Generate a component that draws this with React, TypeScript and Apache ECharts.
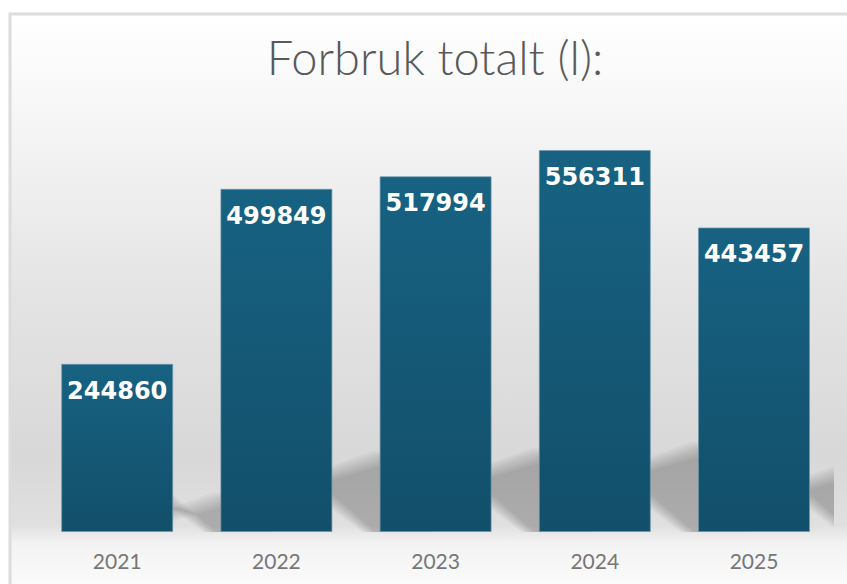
import React, { useEffect, useRef } from "react";
import * as echarts from "echarts";

const categories = ["2021", "2022", "2023", "2024", "2025"];
const values = [244860, 499849, 517994, 556311, 443457];
const titleText = "Forbruk totalt (l):";

export default function App() {
  const ref = useRef<HTMLDivElement>(null);

  useEffect(() => {
    if (!ref.current) return;
    const chart = echarts.init(ref.current, null, { renderer: "svg" });

    const option: any = {
      animation: false,
      graphic: [
        {
          type: "rect",
          z: -10,
          silent: true,
          shape: { x: 10, y: 14, width: 900, height: 700 },
          style: {
            stroke: "#dcdcdc",
            lineWidth: 3,
            fill: {
              type: "linear",
              x: 0,
              y: 0,
              x2: 0,
              y2: 584,
              global: true,
              colorStops: [
                { offset: 0.03, color: "#ffffff" },
                { offset: 0.2, color: "#f6f6f6" },
                { offset: 0.5, color: "#e4e4e4" },
                { offset: 0.78, color: "#d8d8d8" },
                { offset: 0.9, color: "#e0e0e0" },
                { offset: 0.93, color: "#f3f3f3" },
                { offset: 1, color: "#fafafa" },
              ],
            },
          },
        },
      ],
      title: {
        text: titleText,
        left: 430,
        top: 28,
        textAlign: "center",
        textStyle: {
          fontFamily: "Lato",
          fontWeight: 300,
          fontSize: 47,
          color: "#595959",
        },
      },
      grid: { left: 37.6, right: 13.4, top: 120, bottom: 52 },
      xAxis: {
        type: "category",
        data: categories,
        axisLine: { show: false },
        axisTick: { show: false },
        axisLabel: {
          fontFamily: "Lato",
          fontSize: 21,
          color: "#767676",
          margin: 17,
          lineHeight: 22,
        },
      },
      yAxis: {
        type: "value",
        min: 0,
        max: 600000,
        show: false,
        splitLine: { show: false },
      },
      series: [
        {
          type: "custom",
          z: 1,
          silent: true,
          clip: true,
          data: values.map((v, i) => [i, v]),
          renderItem: (params: any, api: any) => {
            const idx = api.value(0);
            const val = api.value(1);
            const base = api.coord([idx, 0]);
            const top = api.coord([idx, val]);
            const w = 112;
            const h = base[1] - top[1];
            const sh = h * 0.235;
            const R = base[0] + w / 2;
            const B = base[1];
            const children: any[] = [];
            const layers = 7;
            for (let j = 0; j < layers; j++) {
              const t = j * 2.2;
              children.push({
                type: "polygon",
                shape: {
                  points: [
                    [R - 10, B - sh + 18 + t],
                    [R + 40 + t, B - sh + t],
                    [R + 100, B - sh + t],
                    [R + 100, B],
                    [R + 30 + t, B],
                    [R - 10, B - 30 - t * 1.2],
                  ],
                },
                style: { fill: "rgba(0,0,0,0.034)" },
              });
            }
            return { type: "group", children };
          },
        },
        {
          type: "bar",
          z: 2,
          data: values,
          barWidth: 112,
          itemStyle: {
            color: {
              type: "linear",
              x: 0,
              y: 0,
              x2: 0,
              y2: 1,
              colorStops: [
                { offset: 0, color: "#176282" },
                { offset: 1, color: "#124f6a" },
              ],
            },
            borderColor: "rgba(110,150,170,0.7)",
            borderWidth: 1,
          },
          label: {
            show: true,
            position: "insideTop",
            distance: 15,
            fontFamily: "DejaVu Sans",
            fontWeight: "bold",
            fontSize: 24,
            color: "#ffffff",
          },
        },
      ],
    };

    chart.setOption(option);
    return () => chart.dispose();
  }, []);

  return (
    <div
      style={{
        position: "fixed",
        left: 0,
        top: 0,
        width: 847,
        height: 584,
        overflow: "hidden",
        background: "#ffffff",
      }}
    >
      <div ref={ref} style={{ width: 847, height: 584 }} />
    </div>
  );
}
